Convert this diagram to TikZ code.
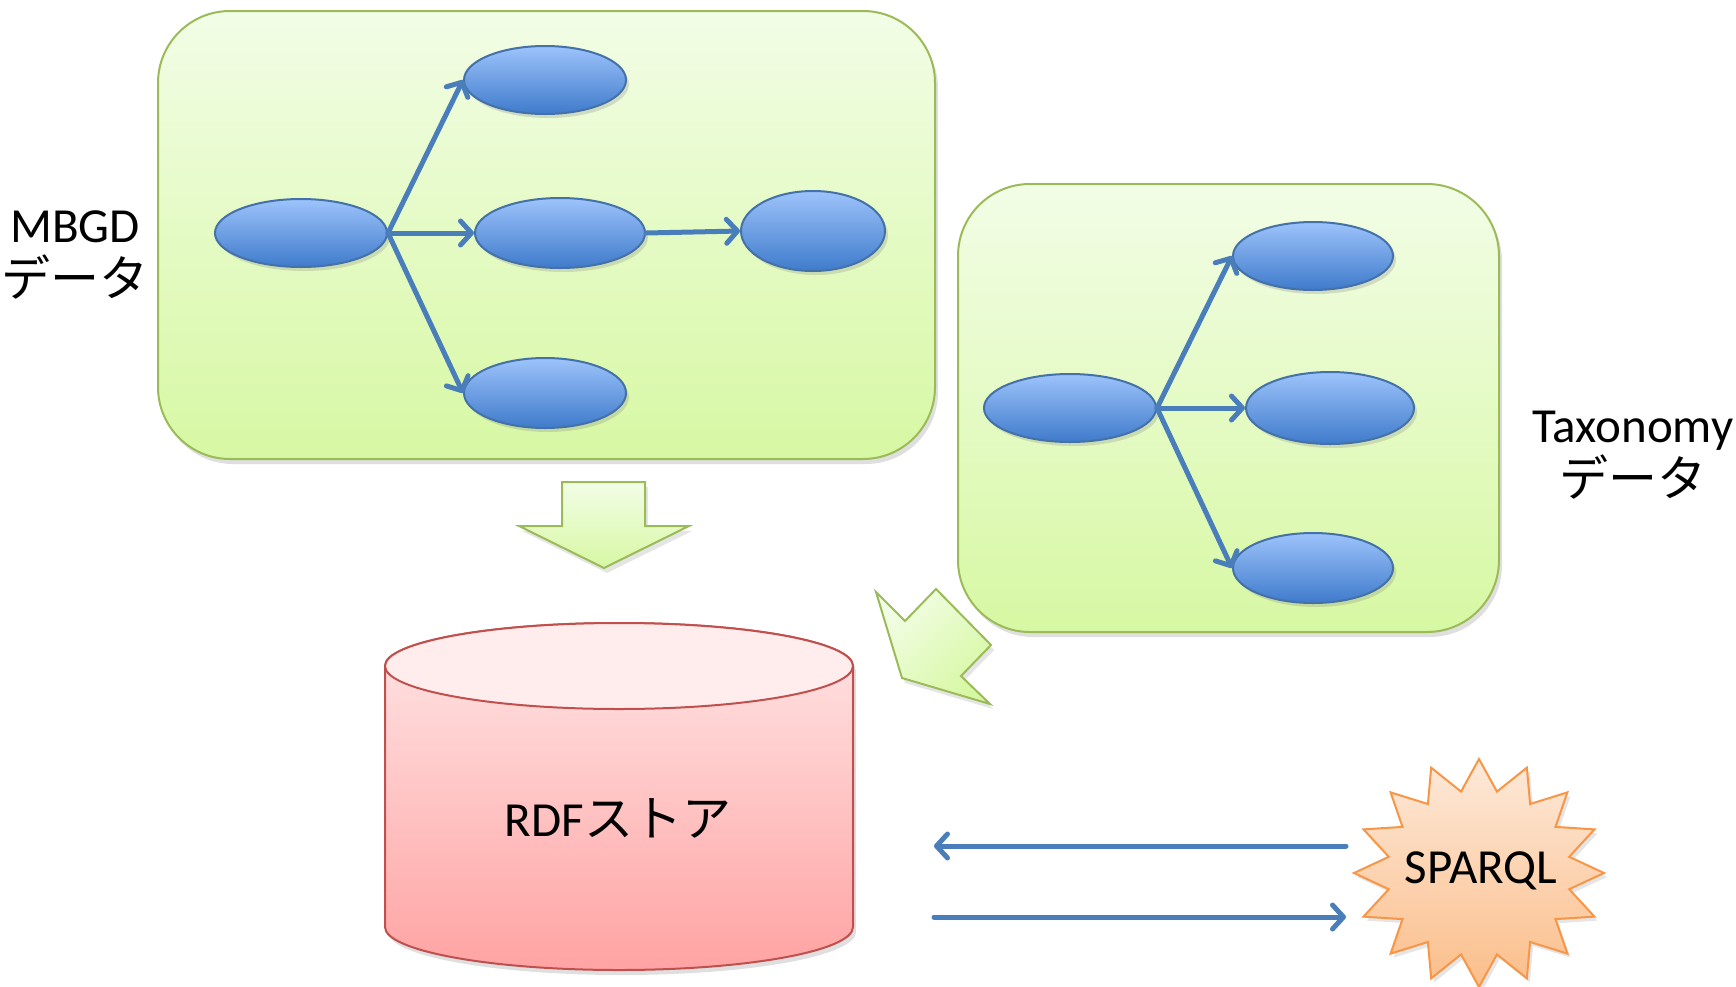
\documentclass[tikz,border=0pt]{standalone}
\usepackage{fontspec}
\setmainfont{Carlito}
\newfontfamily\jp{Noto Sans CJK JP}
\usetikzlibrary{arrows.meta,shadows,shapes.geometric}
\definecolor{grnline}{HTML}{9BBB59}
\definecolor{grntop}{HTML}{F2FDE6}
\definecolor{grnbot}{HTML}{D7F8A3}
\definecolor{bluline}{HTML}{4A7EBB}
\definecolor{blutop}{HTML}{9DC3FB}
\definecolor{blubot}{HTML}{3F7BCB}
\definecolor{redline}{HTML}{C0504D}
\definecolor{redtop}{HTML}{FFE6E6}
\definecolor{redbot}{HTML}{FFA3A3}
\definecolor{ortop}{HTML}{FDE9D9}
\definecolor{orbot}{HTML}{FBBE8A}
\definecolor{orline}{HTML}{F79646}
\begin{document}
\begin{tikzpicture}[x=0.5pt,y=-0.5pt,
  panel/.style={draw=grnline, line width=1pt, top color=grntop, bottom color=grnbot,
    rounded corners=36pt, inner sep=0pt,
    drop shadow={opacity=0.25, shadow xshift=1.5pt, shadow yshift=-2.5pt}},
  blob/.style={ellipse, draw=bluline!90!black, line width=1pt, top color=blutop, bottom color=blubot,
    inner sep=0pt, drop shadow={opacity=0.25, shadow xshift=1.5pt, shadow yshift=-2pt}},
  link/.style={draw=bluline, line width=2.5pt, line cap=round,
    -{Straight Barb[length=5.5pt,width=12pt,line cap=round,line join=round]}},
  bigarrow/.style={draw=grnline, line width=1pt, line join=miter, top color=grntop, bottom color=grnbot,
    drop shadow={opacity=0.2, shadow xshift=1.5pt, shadow yshift=-2.5pt}},
  lbl/.style={font=\fontsize{24.5}{27}\selectfont, align=center, inner sep=0pt}
]
\useasboundingbox[fill=white] (0,0) rectangle (1736,986);

% panels
\node[panel, minimum width=388.5pt, minimum height=224pt] (box1) at (546.5,235) {};
\node[panel, minimum width=270.5pt, minimum height=224pt] (box2) at (1228.5,408) {};

% MBGD graph
\node[blob, minimum width=86pt, minimum height=34pt] (e1) at (301,233) {};
\node[blob, minimum width=81pt, minimum height=34pt] (e2) at (545,80) {};
\node[blob, minimum width=85pt, minimum height=35pt] (e3) at (560,233) {};
\node[blob, minimum width=72pt, minimum height=40pt] (e4) at (813,231) {};
\node[blob, minimum width=81pt, minimum height=35pt] (e5) at (545,393) {};
\draw[link] (e1.east) -- (e2.west);
\draw[link] (e1.east) -- (e3.west);
\draw[link] (e1.east) -- (e5.west);
\draw[link] (e3.east) -- (e4.west);

% Taxonomy graph
\node[blob, minimum width=86pt, minimum height=34pt] (f1) at (1070,408) {};
\node[blob, minimum width=80pt, minimum height=34pt] (f2) at (1313,256) {};
\node[blob, minimum width=84pt, minimum height=36pt] (f3) at (1330,408) {};
\node[blob, minimum width=80pt, minimum height=35pt] (f4) at (1313,568) {};
\draw[link] (f1.east) -- (f2.west);
\draw[link] (f1.east) -- (f3.west);
\draw[link] (f1.east) -- (f4.west);

% labels
\node[lbl] (mbgd) at (75,255) {MBGD\\{\jp データ}};
\node[lbl] (taxo) at (1633,455) {Taxonomy\\{\jp データ}};

% block arrows
\path[bigarrow] (562,482) -- (645,482) -- (645,526) -- (689,526) -- (604,568) -- (519,526) -- (562,526) -- cycle;
\path[bigarrow, shading angle=45] (876,592) -- (905,621) -- (936,589) -- (991,645) -- (961,676) -- (990,704) -- (902,678) -- cycle;

% cylinder
\path[draw=redline, line width=1pt, top color=redtop, bottom color=redbot,
  drop shadow={opacity=0.25, shadow xshift=1.5pt, shadow yshift=-2.5pt}]
  (385,666) -- (385,927) arc[start angle=180, end angle=0, x radius=234, y radius=43]
  -- (853,666) arc[start angle=0, end angle=-180, x radius=234, y radius=43] -- cycle;
\path[draw=redline, line width=1pt, fill=redtop!70!white] (619,666) ellipse[x radius=234, y radius=43];
\node[lbl] (rdf) at (618,818) {RDF{\jp ストア}};

% star
\path[draw=orline, line width=1pt, line join=miter, top color=ortop, bottom color=orbot,
  drop shadow={opacity=0.2, shadow xshift=1.5pt, shadow yshift=-2pt}]
  (1479,759) \foreach \k in {1,...,31} {
    -- ({1479+ifthenelse(mod(\k,2)==0,125,92)*cos(90+\k*11.25)},
        {873-ifthenelse(mod(\k,2)==0,114,83)*sin(90+\k*11.25)}) } -- cycle;
\node[lbl] (sparql) at (1481,871) {SPARQL};

% query arrows
\coordinate (qa) at (1346,846);
\coordinate (ra) at (934,846);
\coordinate (rb) at (934,917);
\coordinate (qb) at (1346,917);
\draw[link] (qa) -- (ra);
\draw[link] (rb) -- (qb);
\end{tikzpicture}
\end{document}
